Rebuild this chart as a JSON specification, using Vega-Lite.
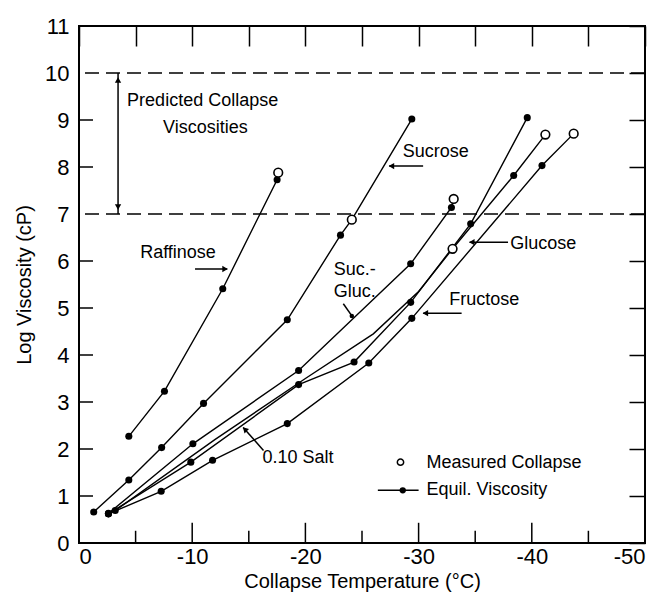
{
  "$schema": "https://vega.github.io/schema/vega-lite/v6.json",
  "width": 566,
  "height": 517,
  "autosize": {"type": "none"},
  "padding": {"left": 79, "top": 26, "right": 9, "bottom": 52},
  "background": "white",
  "config": {
    "view": {"stroke": "black", "strokeWidth": 2},
    "font": "Liberation Sans",
    "axis": {"grid": false, "domain": false, "tickColor": "black", "tickWidth": 1.5, "labelColor": "black", "titleColor": "black", "labelFont": "Liberation Sans", "titleFont": "Liberation Sans", "titleFontWeight": "normal", "labelFontSize": 22, "titleFontSize": 20}
  },
  "datasets": {
    "series": [
      {"s": "Raffinose", "x": -4.4, "y": 2.27, "t": "eq"},
      {"s": "Raffinose", "x": -7.55, "y": 3.23, "t": "eq"},
      {"s": "Raffinose", "x": -12.7, "y": 5.41, "t": "eq"},
      {"s": "Raffinose", "x": -17.5, "y": 7.73, "t": "eq"},
      {"s": "Raffinose", "x": -17.6, "y": 7.88, "t": "mc"},
      {"s": "Sucrose", "x": -1.3, "y": 0.66, "t": "eq"},
      {"s": "Sucrose", "x": -4.4, "y": 1.34, "t": "eq"},
      {"s": "Sucrose", "x": -7.3, "y": 2.03, "t": "eq"},
      {"s": "Sucrose", "x": -11.0, "y": 2.97, "t": "eq"},
      {"s": "Sucrose", "x": -18.4, "y": 4.75, "t": "eq"},
      {"s": "Sucrose", "x": -23.1, "y": 6.55, "t": "eq"},
      {"s": "Sucrose", "x": -24.1, "y": 6.88, "t": "mc"},
      {"s": "Sucrose", "x": -29.4, "y": 9.02, "t": "eq"},
      {"s": "Suc.-Gluc.", "x": -2.6, "y": 0.63, "t": "eq"},
      {"s": "Suc.-Gluc.", "x": -10.06, "y": 2.11, "t": "eq"},
      {"s": "Suc.-Gluc.", "x": -19.4, "y": 3.67, "t": "eq"},
      {"s": "Suc.-Gluc.", "x": -29.3, "y": 5.94, "t": "eq"},
      {"s": "Suc.-Gluc.", "x": -32.9, "y": 7.14, "t": "eq"},
      {"s": "Suc.-Gluc.", "x": -33.1, "y": 7.32, "t": "mc"},
      {"s": "0.10 Salt", "x": -2.6, "y": 0.62, "t": "eq"},
      {"s": "0.10 Salt", "x": -9.88, "y": 1.72, "t": "eq"},
      {"s": "0.10 Salt", "x": -19.4, "y": 3.37, "t": "eq"},
      {"s": "0.10 Salt", "x": -24.3, "y": 3.85, "t": "eq"},
      {"s": "0.10 Salt", "x": -29.3, "y": 5.12, "t": "eq"},
      {"s": "0.10 Salt", "x": -34.6, "y": 6.79, "t": "eq"},
      {"s": "0.10 Salt", "x": -39.6, "y": 9.05, "t": "eq"},
      {"s": "Glucose", "x": -3.2, "y": 0.69, "t": "eq"},
      {"s": "Glucose", "x": -12.0, "y": 2.2, "t": "ln"},
      {"s": "Glucose", "x": -20.0, "y": 3.5, "t": "ln"},
      {"s": "Glucose", "x": -26.0, "y": 4.45, "t": "ln"},
      {"s": "Glucose", "x": -30.0, "y": 5.35, "t": "ln"},
      {"s": "Glucose", "x": -33.0, "y": 6.26, "t": "mc"},
      {"s": "Glucose", "x": -38.4, "y": 7.82, "t": "eq"},
      {"s": "Glucose", "x": -41.2, "y": 8.69, "t": "mc"},
      {"s": "Fructose", "x": -2.6, "y": 0.62, "t": "eq"},
      {"s": "Fructose", "x": -7.26, "y": 1.1, "t": "eq"},
      {"s": "Fructose", "x": -11.8, "y": 1.76, "t": "eq"},
      {"s": "Fructose", "x": -18.4, "y": 2.54, "t": "eq"},
      {"s": "Fructose", "x": -25.6, "y": 3.83, "t": "eq"},
      {"s": "Fructose", "x": -29.4, "y": 4.78, "t": "eq"},
      {"s": "Fructose", "x": -40.9, "y": 8.03, "t": "eq"},
      {"s": "Fructose", "x": -43.7, "y": 8.71, "t": "mc"}
    ],
    "dash": [{"y": 10}, {"y": 7}],
    "tickmarks": [
      {"x": -5, "y": 0, "x2": -5, "y2": 0.26},
      {"x": -10, "y": 0, "x2": -10, "y2": 0.43},
      {"x": -15, "y": 0, "x2": -15, "y2": 0.26},
      {"x": -20, "y": 0, "x2": -20, "y2": 0.43},
      {"x": -25, "y": 0, "x2": -25, "y2": 0.26},
      {"x": -30, "y": 0, "x2": -30, "y2": 0.43},
      {"x": -35, "y": 0, "x2": -35, "y2": 0.26},
      {"x": -40, "y": 0, "x2": -40, "y2": 0.43},
      {"x": -45, "y": 0, "x2": -45, "y2": 0.26},
      {"x": 0, "y": 1, "x2": -1.24, "y2": 1},
      {"x": 0, "y": 2, "x2": -1.24, "y2": 2},
      {"x": 0, "y": 3, "x2": -1.24, "y2": 3},
      {"x": 0, "y": 4, "x2": -1.24, "y2": 4},
      {"x": 0, "y": 5, "x2": -1.24, "y2": 5},
      {"x": 0, "y": 6, "x2": -1.24, "y2": 6},
      {"x": 0, "y": 8, "x2": -1.24, "y2": 8},
      {"x": 0, "y": 9, "x2": -1.24, "y2": 9}
    ],
    "arrows": [
      {"a": "pred", "x": -3.45, "y": 7.0, "x2": -3.45, "y2": 10.0},
      {"a": "raff", "x": -10.25, "y": 5.83, "x2": -13.1, "y2": 5.83},
      {"a": "sucr", "x": -30.4, "y": 8.02, "x2": -27.4, "y2": 8.02},
      {"a": "gluc", "x": -37.9, "y": 6.4, "x2": -34.5, "y2": 6.4},
      {"a": "fruc", "x": -33.8, "y": 4.89, "x2": -30.4, "y2": 4.89},
      {"a": "sg", "x": -23.35, "y": 5.09, "x2": -24.2, "y2": 4.8},
      {"a": "salt", "x": -16.3, "y": 1.97, "x2": -14.5, "y2": 2.46},
      {"a": "legend", "x": -26.4, "y": 1.12, "x2": -30.0, "y2": 1.12}
    ],
    "heads": [
      {"d": "up", "x": -3.45, "y": 9.85},
      {"d": "down", "x": -3.45, "y": 7.15},
      {"d": "right", "x": -12.9, "y": 5.83},
      {"d": "left", "x": -27.6, "y": 8.02},
      {"d": "left", "x": -34.7, "y": 6.4},
      {"d": "left", "x": -30.6, "y": 4.89},
      {"d": "dot", "x": -24.1, "y": 4.83},
      {"d": "upleft", "x": -14.65, "y": 2.42}
    ],
    "legend": [
      {"t": "mc", "x": -28.4, "y": 1.72},
      {"t": "eq", "x": -28.6, "y": 1.12}
    ],
    "notes": [
      {"text": "Predicted Collapse", "x": -4.25, "y": 9.41},
      {"text": "Viscosities", "x": -7.43, "y": 8.84},
      {"text": "Raffinose", "x": -5.4, "y": 6.16},
      {"text": "Sucrose", "x": -28.6, "y": 8.31},
      {"text": "Suc.-", "x": -22.5, "y": 5.8},
      {"text": "Gluc.", "x": -22.5, "y": 5.33},
      {"text": "Glucose", "x": -38.1, "y": 6.37},
      {"text": "Fructose", "x": -32.7, "y": 5.16},
      {"text": "0.10 Salt", "x": -16.2, "y": 1.8},
      {"text": "Measured Collapse", "x": -30.7, "y": 1.71},
      {"text": "Equil. Viscosity", "x": -30.7, "y": 1.12}
    ]
  },
  "layer": [
    {
      "data": {"name": "series"},
      "mark": {"type": "point", "opacity": 0},
      "encoding": {
        "x": {"field": "x", "type": "quantitative", "scale": {"domain": [-50, 0], "reverse": true, "nice": false, "zero": false},
          "axis": {"orient": "bottom", "values": [0, -10, -20, -30, -40, -50], "ticks": false, "labelPadding": 3, "labelExpr": "'' + datum.value", "title": "Collapse Temperature (°C)", "titlePadding": 4}},
        "y": {"field": "y", "type": "quantitative", "scale": {"domain": [0, 11], "nice": false},
          "axis": {"orient": "left", "values": [0, 1, 2, 3, 4, 5, 6, 7, 8, 9, 10, 11], "ticks": false, "labelPadding": 10, "title": "Log Viscosity (cP)", "titlePadding": 10}}
      }
    },
    {
      "data": {"name": "series"},
      "mark": {"type": "point", "opacity": 0},
      "encoding": {
        "x": {"field": "x", "type": "quantitative", "scale": {"domain": [-50, 0], "reverse": true, "nice": false, "zero": false},
          "axis": {"orient": "top", "values": [0, -5, -10, -15, -20, -25, -30, -35, -40, -45, -50], "offset": -20, "tickSize": 20, "labels": false, "title": null}},
        "y": {"field": "y", "type": "quantitative", "scale": {"domain": [0, 11], "nice": false},
          "axis": {"orient": "right", "values": [0, 1, 2, 3, 4, 5, 6, 7, 8, 9, 10, 11], "offset": -16, "tickSize": 16, "labels": false, "title": null}}
      }
    },
    {
      "data": {"name": "tickmarks"},
      "mark": {"type": "rule", "color": "black", "strokeWidth": 1.5},
      "encoding": {
        "x": {"field": "x", "type": "quantitative", "scale": {"domain": [-50, 0], "reverse": true, "nice": false, "zero": false}, "axis": null},
        "y": {"field": "y", "type": "quantitative", "scale": {"domain": [0, 11], "nice": false}, "axis": null},
        "x2": {"field": "x2"},
        "y2": {"field": "y2"}
      }
    },
    {
      "layer": [
        {
          "data": {"name": "dash"},
          "mark": {"type": "rule", "color": "black", "strokeWidth": 1.5, "strokeDash": [14, 7]},
          "encoding": {"y": {"field": "y", "type": "quantitative", "axis": null}}
        },
        {
          "data": {"name": "series"},
          "mark": {"type": "line", "color": "black", "strokeWidth": 1.4},
          "encoding": {
            "x": {"field": "x", "type": "quantitative", "scale": {"domain": [-50, 0], "reverse": true, "nice": false, "zero": false}, "axis": null},
            "y": {"field": "y", "type": "quantitative", "scale": {"domain": [0, 11], "nice": false}, "axis": null},
            "detail": {"field": "s"}
          }
        },
        {
          "data": {"name": "series"},
          "transform": [{"filter": "datum.t === 'eq'"}],
          "mark": {"type": "point", "shape": "circle", "filled": true, "color": "black", "size": 50, "opacity": 1},
          "encoding": {"x": {"field": "x", "type": "quantitative", "axis": null}, "y": {"field": "y", "type": "quantitative", "axis": null}}
        },
        {
          "data": {"name": "series"},
          "transform": [{"filter": "datum.t === 'mc'"}],
          "mark": {"type": "point", "shape": "circle", "filled": true, "fill": "white", "stroke": "black", "strokeWidth": 1.6, "size": 75, "opacity": 1},
          "encoding": {"x": {"field": "x", "type": "quantitative", "axis": null}, "y": {"field": "y", "type": "quantitative", "axis": null}}
        },
        {
          "data": {"name": "arrows"},
          "mark": {"type": "rule", "color": "black", "strokeWidth": 1.5},
          "encoding": {
            "x": {"field": "x", "type": "quantitative", "axis": null},
            "y": {"field": "y", "type": "quantitative", "axis": null},
            "x2": {"field": "x2"},
            "y2": {"field": "y2"}
          }
        },
        {
          "data": {"name": "heads"},
          "transform": [{"filter": "datum.d === 'up'"}],
          "mark": {"type": "point", "shape": "triangle-up", "filled": true, "color": "black", "size": 40, "opacity": 1},
          "encoding": {"x": {"field": "x", "type": "quantitative", "axis": null}, "y": {"field": "y", "type": "quantitative", "axis": null}}
        },
        {
          "data": {"name": "heads"},
          "transform": [{"filter": "datum.d === 'down'"}],
          "mark": {"type": "point", "shape": "triangle-down", "filled": true, "color": "black", "size": 40, "opacity": 1},
          "encoding": {"x": {"field": "x", "type": "quantitative", "axis": null}, "y": {"field": "y", "type": "quantitative", "axis": null}}
        },
        {
          "data": {"name": "heads"},
          "transform": [{"filter": "datum.d === 'right'"}],
          "mark": {"type": "point", "shape": "triangle-right", "filled": true, "color": "black", "size": 40, "opacity": 1},
          "encoding": {"x": {"field": "x", "type": "quantitative", "axis": null}, "y": {"field": "y", "type": "quantitative", "axis": null}}
        },
        {
          "data": {"name": "heads"},
          "transform": [{"filter": "datum.d === 'left'"}],
          "mark": {"type": "point", "shape": "triangle-left", "filled": true, "color": "black", "size": 40, "opacity": 1},
          "encoding": {"x": {"field": "x", "type": "quantitative", "axis": null}, "y": {"field": "y", "type": "quantitative", "axis": null}}
        },
        {
          "data": {"name": "heads"},
          "transform": [{"filter": "datum.d === 'upleft'"}],
          "mark": {"type": "point", "shape": "triangle-up", "angle": -45, "filled": true, "color": "black", "size": 40, "opacity": 1},
          "encoding": {"x": {"field": "x", "type": "quantitative", "axis": null}, "y": {"field": "y", "type": "quantitative", "axis": null}}
        },
        {
          "data": {"name": "heads"},
          "transform": [{"filter": "datum.d === 'dot'"}],
          "mark": {"type": "point", "shape": "circle", "filled": true, "color": "black", "size": 20, "opacity": 1},
          "encoding": {"x": {"field": "x", "type": "quantitative", "axis": null}, "y": {"field": "y", "type": "quantitative", "axis": null}}
        },
        {
          "data": {"name": "legend"},
          "transform": [{"filter": "datum.t === 'eq'"}],
          "mark": {"type": "point", "shape": "circle", "filled": true, "color": "black", "size": 40, "opacity": 1},
          "encoding": {"x": {"field": "x", "type": "quantitative", "axis": null}, "y": {"field": "y", "type": "quantitative", "axis": null}}
        },
        {
          "data": {"name": "legend"},
          "transform": [{"filter": "datum.t === 'mc'"}],
          "mark": {"type": "point", "shape": "circle", "filled": true, "fill": "white", "stroke": "black", "strokeWidth": 1.5, "size": 40, "opacity": 1},
          "encoding": {"x": {"field": "x", "type": "quantitative", "axis": null}, "y": {"field": "y", "type": "quantitative", "axis": null}}
        },
        {
          "data": {"name": "notes"},
          "mark": {"type": "text", "align": "left", "baseline": "middle", "font": "Liberation Sans", "fontSize": 18, "color": "black"},
          "encoding": {
            "x": {"field": "x", "type": "quantitative", "axis": null},
            "y": {"field": "y", "type": "quantitative", "axis": null},
            "text": {"field": "text"}
          }
        }
      ]
    }
  ],
  "resolve": {"scale": {"x": "independent", "y": "independent"}, "axis": {"x": "independent", "y": "independent"}}
}
